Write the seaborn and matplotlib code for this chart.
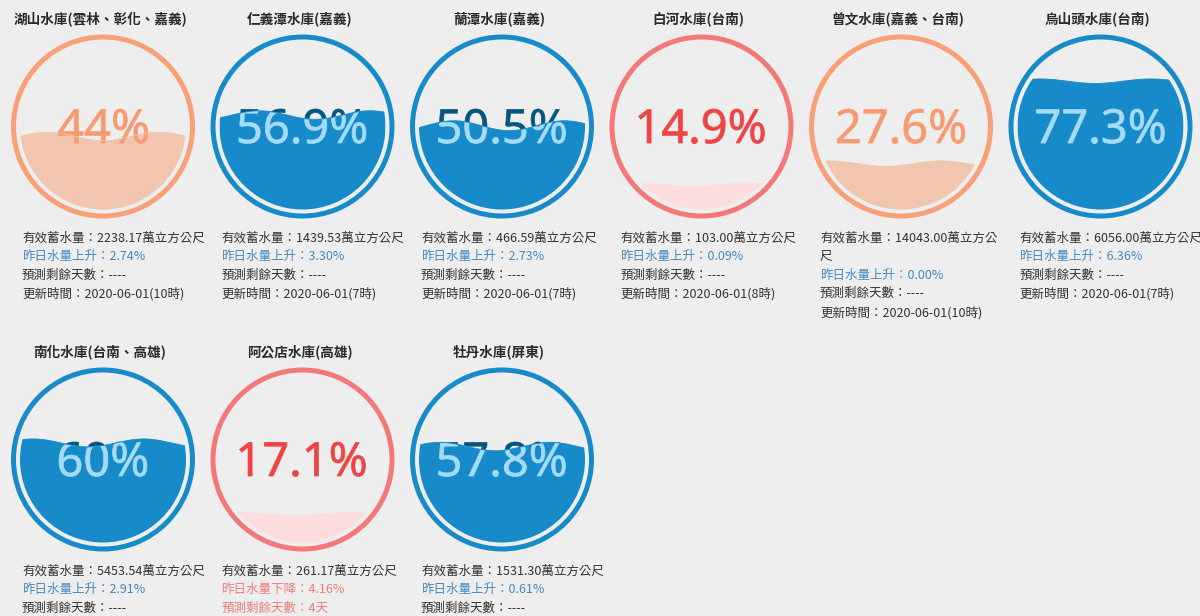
import textwrap
import numpy as np
import matplotlib
matplotlib.use("Agg")
import matplotlib.pyplot as plt
import seaborn as sns
from matplotlib.patches import Annulus, Circle, Polygon, PathPatch
from matplotlib.textpath import TextPath
from matplotlib.font_manager import FontProperties
from matplotlib.transforms import Affine2D

# 水庫資料
names = ["湖山水庫(雲林、彰化、嘉義)", "仁義潭水庫(嘉義)", "蘭潭水庫(嘉義)", "白河水庫(台南)",
         "曾文水庫(嘉義、台南)", "烏山頭水庫(台南)", "南化水庫(台南、高雄)", "阿公店水庫(高雄)",
         "牡丹水庫(屏東)"]
fill_pct = [44, 56.9, 50.5, 14.9, 27.6, 77.3, 60, 17.1, 57.8]
storage = [2238.17, 1439.53, 466.59, 103.00, 14043.00, 6056.00, 5453.54, 261.17, 1531.30]
change_pct = [2.74, 3.30, 2.73, 0.09, 0.00, 6.36, 2.91, -4.16, 0.61]
days_left = ["----", "----", "----", "----", "----", "----", "----", "4天", "----"]
updated = ["2020-06-01(10時)", "2020-06-01(7時)", "2020-06-01(7時)", "2020-06-01(8時)",
           "2020-06-01(10時)", "2020-06-01(7時)", None, None, None]

# 版面
W, H = 1200, 616
BG = "#EEEEEE"
COL_X0, COL_STEP = 103, 199.5
ROW_Y = [126.5, 459.5]          # 圓心 (像素, 由上往下)
RING_R, RING_W, FILL_R = 92, 5, 83
WAVE_H, WAVE_COUNT = 0.06, 1.5
phases = [0.0, -0.7, -0.4, 0.5, 0.9, 0.3, 0.83, 0.5, 0.4]


def scheme(p):
    if p < 20:
        return dict(circle="#F47878", wave="#FEDDDD", text="#EF4444", wave_text="#FFAAAA")
    if p < 50:
        return dict(circle="#F9A078", wave="#F2C5AF", text="#F89A6F", wave_text="#F89A6F")
    return dict(circle="#178BCA", wave="#178BCA", text="#045681", wave_text="#A4DBF8")


sns.set_theme(style="white", rc={"figure.facecolor": BG, "axes.facecolor": BG})
plt.rcParams["font.family"] = ["Noto Sans CJK TC", "DejaVu Sans"]
pct_font = FontProperties(family="Noto Sans", weight="normal")

fig = plt.figure(figsize=(12, 6.16), dpi=100)
ax = fig.add_axes([0, 0, 1, 1])

for i, name in enumerate(names):
    row, col = divmod(i, 6)
    cx = COL_X0 + COL_STEP * col
    cy = H - ROW_Y[row]
    c = scheme(fill_pct[i])

    ax.text(cx - 3, cy + 107.5, name, ha="center", va="center", fontsize=9.8,
            color="#2A2A2A", fontweight="bold")

    ax.add_patch(Annulus((cx, cy), RING_R, RING_W, color=c["circle"], lw=0))
    clip = Circle((cx, cy), FILL_R, transform=ax.transData)

    # 水位波浪
    xs = np.linspace(cx - FILL_R, cx + FILL_R, 200)
    level = cy - FILL_R + 2 * FILL_R * fill_pct[i] / 100
    amp = WAVE_H * FILL_R * (1 - abs(fill_pct[i] - 50) / 50)
    ys = level + amp * np.sin(2 * np.pi * WAVE_COUNT * (xs - xs[0]) / (2 * FILL_R) + phases[i])
    bottom = cy - FILL_R - 2
    verts = np.column_stack([np.r_[xs, xs[-1], xs[0]], np.r_[ys, bottom, bottom]])

    # 百分比文字 (水面上)
    tp = TextPath((0, 0), f"{fill_pct[i]:g}%", size=47, prop=pct_font)
    bb = tp.get_extents()
    path = Affine2D().translate(cx - (bb.x0 + bb.x1) / 2, cy - 16.5).transform_path(tp)
    ax.add_patch(PathPatch(path, fc=c["text"], ec=c["text"], lw=0.5))

    wave = Polygon(verts, closed=True, fc=c["wave"], lw=0)
    ax.add_patch(wave)
    wave.set_clip_path(clip)
    sns.lineplot(x=xs, y=ys, color=c["wave"], lw=0.6, ax=ax)
    ax.lines[-1].set_clip_path(clip)

    # 百分比文字 (水面下)
    inner = PathPatch(path, fc=c["wave_text"], ec=c["wave_text"], lw=0.5)
    ax.add_patch(inner)
    inner.set_clip_path(wave)

    # 說明文字
    lines = [(s, "#333333") for s in textwrap.wrap(f"有效蓄水量：{storage[i]:.2f}萬立方公尺", 18)]
    ch = change_pct[i]
    lines.append((f"昨日水量{'上升' if ch >= 0 else '下降'}：{abs(ch):.2f}%",
                  "#4589C2" if ch >= 0 else "#F07C7C"))
    lines.append((f"預測剩餘天數：{days_left[i]}",
                  "#333333" if days_left[i] == "----" else "#F07C7C"))
    if updated[i]:
        lines.append((f"更新時間：{updated[i]}", "#333333"))
    y = cy - 111.5
    for s, colr in lines:
        ax.text(cx - 81, y, s, ha="left", va="center", fontsize=9, color=colr)
        y -= 18.6

ax.set_xlim(0, W)
ax.set_ylim(0, H)
ax.axis("off")
fig.savefig("out.png", dpi=100, facecolor=BG)
